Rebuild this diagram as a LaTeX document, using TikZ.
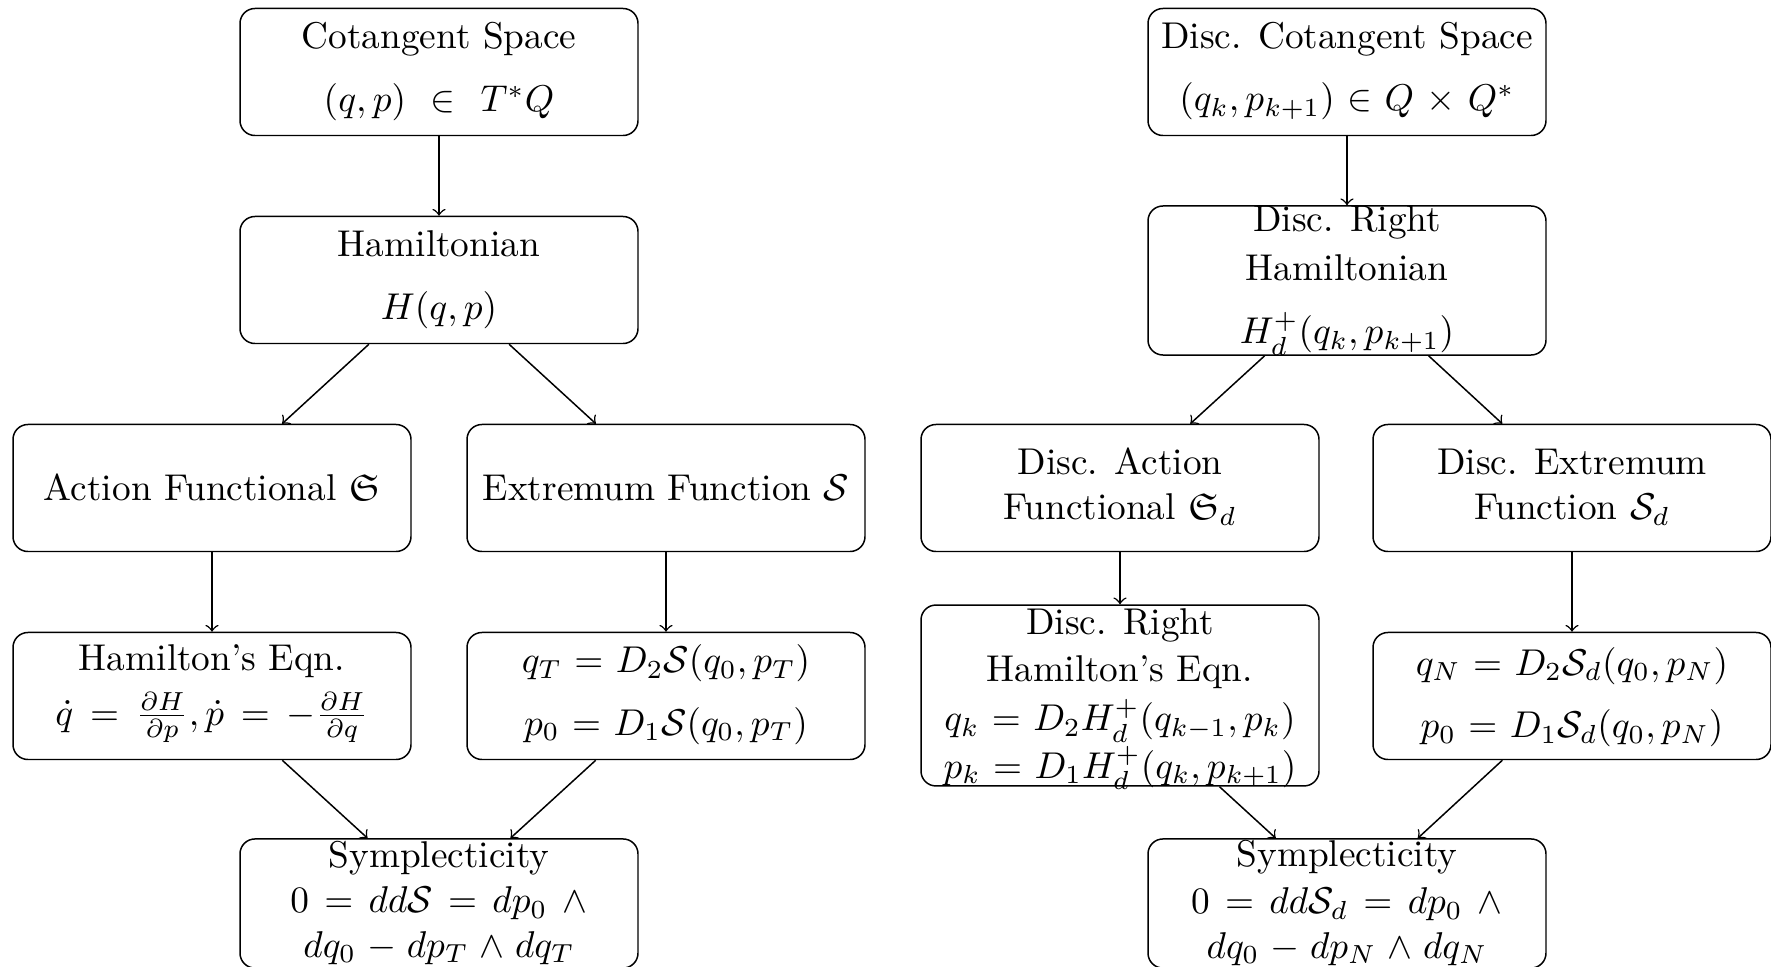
\documentclass[tikz,border=0pt]{standalone}
\usepackage{amsmath,amssymb}
\newcommand\gapS{\hspace{4.1pt}}
\newcommand\gapT{\hspace{2.9pt}}
\newcommand\gapQ{\hspace{4.5pt}}
\begin{document}
\begin{tikzpicture}[x=0.2681pt, y=-0.2681pt,
  box/.style={draw, rounded corners=4pt, inner sep=0pt, minimum width=106.7pt, minimum height=34.05pt},
  tallbox/.style={box, minimum height=39.95pt},
  tallerbox/.style={box, minimum height=48.5pt},
  lastbox/.style={box, minimum height=34.6pt},
  txt/.style={inner sep=0pt, anchor=base},
  conn/.style={->}]
\useasboundingbox (0,0) rectangle (1771,967);

% ---------------- left diagram ----------------
\node[box] (cot) at (439,72) {};
\node[txt] (cotA) at (439,49) {Cotangent Space};
\node[txt] (cotB) at (439,112) {$(q,p)$\ \ $\in$\ \ $T^*Q$};

\node[box] (ham) at (439,280) {};
\node[txt] (hamA) at (439,257) {Hamiltonian};
\node[txt] (hamB) at (439,320) {$H(q,p)$};

\node[box] (act) at (212,488) {};
\node[txt] (actA) at (212,501) {Action Functional $\mathfrak{S}$};

\node[box] (ext) at (666,488) {};
\node[txt] (extA) at (666,501) {Extremum Function $\mathcal{S}$};

\node[box] (heq) at (212,696) {};
\node[txt] (heqA) at (212,671) {Hamilton’s Eqn.};
\node[txt] (heqB) at (212,725) {$\dot q$\gapQ$=$\gapQ$\frac{\partial H}{\partial p}, \dot p$\gapQ$=$\gapQ$-\frac{\partial H}{\partial q}$};

\node[box] (bnd) at (666,696) {};
\node[txt] (bndA) at (666,673) {$q_T$ $=$ $D_2\mathcal{S}(q_0,p_T)$};
\node[txt] (bndB) at (666,735) {$p_0$ $=$ $D_1\mathcal{S}(q_0,p_T)$};

\node[lastbox] (sym) at (439,903.5) {};
\node[txt] (symA) at (439,867) {Symplecticity};
\node[txt] (symB) at (439,913) {$0$\gapS$=$\gapS$dd\mathcal{S}$\gapS$=$\gapS$dp_0$\gapS$\wedge$};
\node[txt] (symC) at (439,957) {$dq_0$\gapT$-$\gapT$dp_T$\gapT$\wedge$\gapT$dq_T$};

\draw[conn] (cot) -- (ham);
\draw[conn] (ham) -- (act);
\draw[conn] (ham) -- (ext);
\draw[conn] (act) -- (heq);
\draw[conn] (ext) -- (bnd);
\draw[conn] (heq) -- (sym);
\draw[conn] (bnd) -- (sym);

% ---------------- right diagram ----------------
\node[box] (dcot) at (1347,72) {};
\node[txt] (dcotA) at (1347,49) {Disc. Cotangent Space};
\node[txt] (dcotB) at (1347,111) {$(q_k,p_{k+1})$ $\in$ $Q$ $\times$ $Q^*$};

\node[tallbox] (dham) at (1347,280.5) {};
\node[txt] (dhamA) at (1347,232) {Disc. Right};
\node[txt] (dhamB) at (1347,281) {Hamiltonian};
\node[txt] (dhamC) at (1347,344) {$H_d^+(q_k,p_{k+1})$};

\node[box] (dact) at (1120,488) {};
\node[txt] (dactA) at (1120,475) {Disc. Action};
\node[txt] (dactB) at (1120,520) {Functional $\mathfrak{S}_d$};

\node[box] (dext) at (1572,488) {};
\node[txt] (dextA) at (1572,475) {Disc. Extremum};
\node[txt] (dextB) at (1572,520) {Function $\mathcal{S}_d$};

\node[tallerbox] (dheq) at (1120,695.5) {};
\node[txt] (dheqA) at (1120,634) {Disc. Right};
\node[txt] (dheqB) at (1120,682) {Hamilton’s Eqn.};
\node[txt] (dheqC) at (1120,731) {$q_k$ $=$ $D_2H_d^+(q_{k-1},p_k)$};
\node[txt] (dheqD) at (1120,778) {$p_k$ $=$ $D_1H_d^+(q_k,p_{k+1})$};

\node[box] (dbnd) at (1572,696) {};
\node[txt] (dbndA) at (1572,675) {$q_N$ $=$ $D_2\mathcal{S}_d(q_0,p_N)$};
\node[txt] (dbndB) at (1572,738) {$p_0$ $=$ $D_1\mathcal{S}_d(q_0,p_N)$};

\node[lastbox] (dsym) at (1347,903.5) {};
\node[txt] (dsymA) at (1347,866) {Symplecticity};
\node[txt] (dsymB) at (1347,914) {$0$\gapS$=$\gapS$dd\mathcal{S}_d$\gapS$=$\gapS$dp_0$\gapS$\wedge$};
\node[txt] (dsymC) at (1347,958) {$dq_0$\gapT$-$\gapT$dp_N$\gapT$\wedge$\gapT$dq_N$};

\draw[conn] (dcot) -- (dham);
\draw[conn] (dham) -- (dact);
\draw[conn] (dham) -- (dext);
\draw[conn] (dact) -- (dheq);
\draw[conn] (dext) -- (dbnd);
\draw[conn] (dheq) -- (dsym);
\draw[conn] (dbnd) -- (dsym);
\end{tikzpicture}
\end{document}
